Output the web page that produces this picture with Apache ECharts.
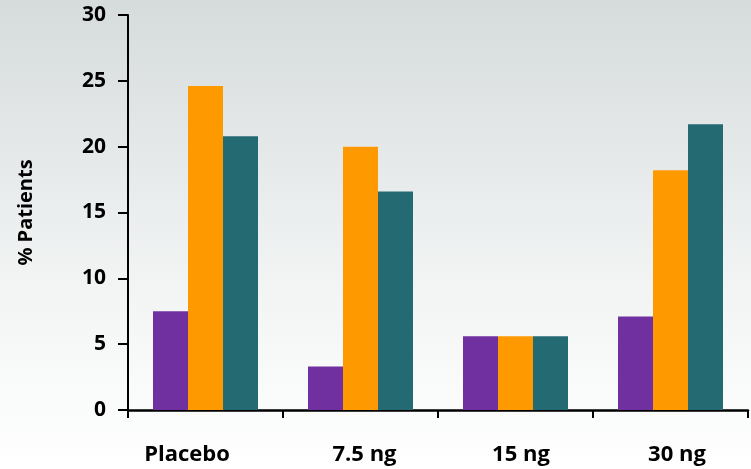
<!DOCTYPE html>
<html>
<head>
<meta charset="utf-8">
<script src="https://cdn.jsdelivr.net/npm/echarts@6/dist/echarts.min.js"></script>
<style>
  html, body { margin: 0; padding: 0; }
  #chart { width: 751px; height: 469px; }
</style>
</head>
<body>
<div id="chart"></div>
<script>
// Dose groups along the x axis
const categories = ['Placebo', '7.5 ng', '15 ng', '30 ng'];
// Percent of patients per dose group, one array per bar colour
const purpleValues = [7.5, 3.3, 5.6, 7.1];
const orangeValues = [24.6, 20.0, 5.6, 18.2];
const tealValues = [20.8, 16.6, 5.6, 21.7];
// Y axis ticks
const yTicks = [0, 5, 10, 15, 20, 25, 30];

const FONT = '"Open Sans", "Liberation Sans", sans-serif';

// Small per-label nudges so the category names sit where they belong
const labelPadding = [[0, 37, 0, 0], [0, 0, 0, 8], [0, 0, 0, 11], [0, 0, 0, 13]];

const chart = echarts.init(document.getElementById('chart'));

const barSeries = (name, data, color) => ({
  name: name,
  type: 'bar',
  data: data,
  barWidth: 35,
  barGap: '0%',
  itemStyle: { color: color },
  emphasis: { disabled: true }
});

chart.setOption({
  animation: false,
  backgroundColor: new echarts.graphic.LinearGradient(0, 0, 0, 1, [
    { offset: 0, color: '#d6dbdc' },
    { offset: 0.6, color: '#f2f4f4' },
    { offset: 1, color: '#ffffff' }
  ]),
  grid: { left: 128, right: 3, top: 15, bottom: 59 },
  xAxis: {
    type: 'category',
    data: categories.map((c, i) => ({
      value: c,
      textStyle: { padding: labelPadding[i] }
    })),
    boundaryGap: true,
    axisLine: { lineStyle: { color: '#000', width: 2.5 } },
    axisTick: { show: true, length: 8, lineStyle: { color: '#000', width: 2 } },
    axisLabel: {
      margin: 34,
      color: '#000',
      fontFamily: FONT,
      fontWeight: 'bold',
      fontSize: 22
    }
  },
  yAxis: {
    type: 'value',
    min: yTicks[0],
    max: yTicks[yTicks.length - 1],
    interval: 5,
    name: '% Patients',
    nameLocation: 'middle',
    nameGap: 92,
    nameTextStyle: {
      color: '#000',
      fontFamily: FONT,
      fontWeight: 'bold',
      fontSize: 20
    },
    splitLine: { show: false },
    axisLine: { show: true, lineStyle: { color: '#000', width: 2 } },
    axisTick: { show: true, length: 10, lineStyle: { color: '#000', width: 2 } },
    axisLabel: {
      margin: 22,
      color: '#000',
      fontFamily: FONT,
      fontWeight: 'bold',
      fontSize: 21
    }
  },
  series: [
    barSeries('A', purpleValues, '#7030a0'),
    barSeries('B', orangeValues, '#ff9900'),
    barSeries('C', tealValues, '#236a72')
  ]
});
</script>
</body>
</html>
